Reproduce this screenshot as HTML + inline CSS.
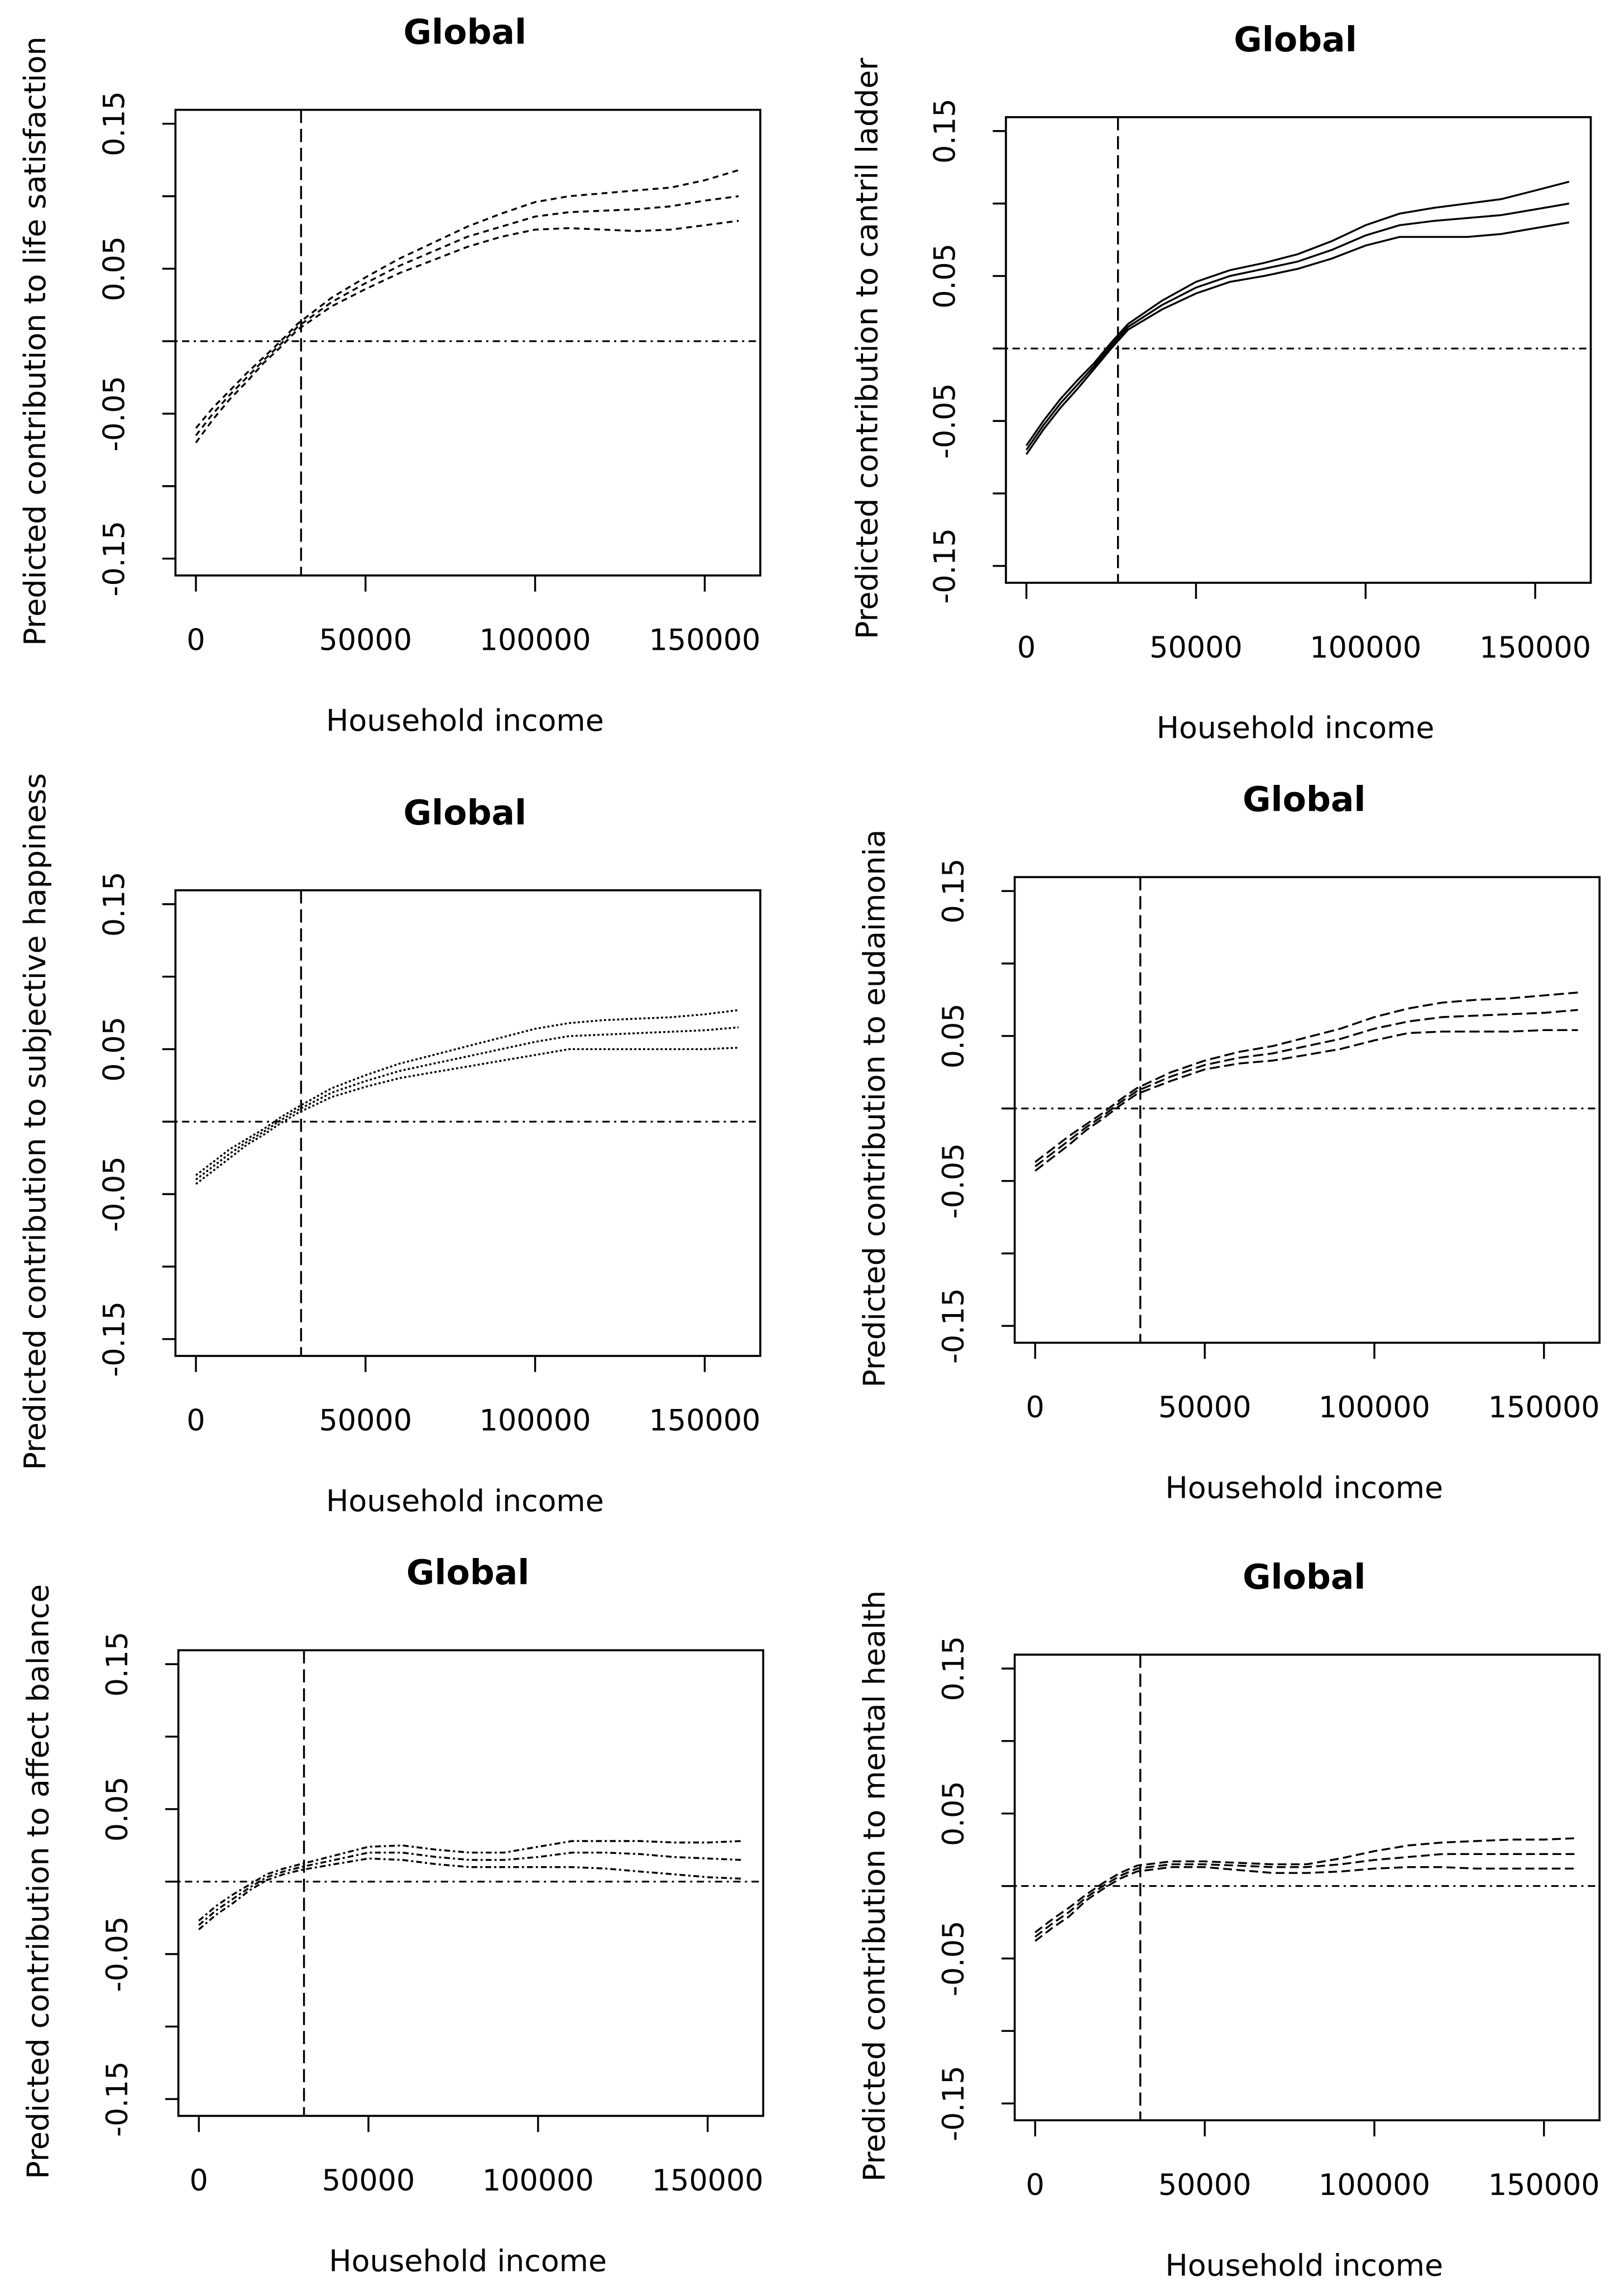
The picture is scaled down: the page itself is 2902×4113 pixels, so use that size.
<!DOCTYPE html>
<html><head><meta charset="utf-8">
<style>
html,body{margin:0;padding:0;background:#fff;}
svg{display:block;}
text{font-family:"DejaVu Sans","Liberation Sans",sans-serif;fill:#000;}
</style></head>
<body>
<svg id="fig" width="2902" height="4113" viewBox="0 0 1108 1568" preserveAspectRatio="none" xmlns="http://www.w3.org/2000/svg"></svg>
<script>
// Shared data
const incomeX = [0,5000,10000,15000,20000,25000,30000,40000,50000,60000,70000,80000,90000,100000,110000,120000,130000,140000,150000,160000];
const xTicks = [0,50000,100000,150000];
const xTickLabels = ["0","50000","100000","150000"];
const yTicks = [0.15,0.10,0.05,0,-0.05,-0.10,-0.15];
const yTickLabels = ["0.15","","0.05","","-0.05","","-0.15"];

// Panel 1: life satisfaction
const lsMid = [-0.065,-0.05,-0.037,-0.025,-0.013,-0.002,0.01,0.027,0.04,0.052,0.062,0.072,0.079,0.086,0.089,0.09,0.091,0.093,0.097,0.1];
const lsHi  = [-0.06,-0.046,-0.034,-0.022,-0.011,0.0,0.012,0.03,0.044,0.057,0.068,0.079,0.088,0.096,0.1,0.102,0.104,0.106,0.111,0.118];
const lsLo  = [-0.07,-0.054,-0.04,-0.028,-0.015,-0.004,0.008,0.024,0.036,0.047,0.056,0.065,0.072,0.077,0.078,0.077,0.076,0.077,0.08,0.083];
// Panel 2: cantril ladder
const clMid = [-0.07,-0.053,-0.038,-0.025,-0.012,0.002,0.015,0.03,0.042,0.05,0.055,0.06,0.068,0.078,0.085,0.088,0.09,0.092,0.096,0.1];
const clHi  = [-0.067,-0.05,-0.035,-0.022,-0.01,0.004,0.017,0.033,0.046,0.054,0.059,0.065,0.074,0.085,0.093,0.097,0.1,0.103,0.109,0.115];
const clLo  = [-0.073,-0.056,-0.041,-0.028,-0.014,0.0,0.013,0.027,0.038,0.046,0.05,0.055,0.062,0.071,0.077,0.077,0.077,0.079,0.083,0.087];
// Panel 3: subjective happiness
const shMid = [-0.04,-0.031,-0.022,-0.014,-0.007,0.001,0.008,0.02,0.028,0.035,0.04,0.045,0.05,0.055,0.059,0.06,0.061,0.062,0.063,0.065];
const shHi  = [-0.037,-0.028,-0.019,-0.012,-0.005,0.003,0.01,0.023,0.032,0.04,0.046,0.052,0.058,0.064,0.068,0.07,0.071,0.072,0.074,0.077];
const shLo  = [-0.043,-0.034,-0.025,-0.016,-0.009,-0.001,0.006,0.017,0.024,0.03,0.034,0.038,0.042,0.046,0.05,0.05,0.05,0.05,0.05,0.051];
// Panel 4: eudaimonia
const euMid = [-0.04,-0.031,-0.022,-0.013,-0.005,0.004,0.012,0.022,0.03,0.035,0.038,0.043,0.048,0.055,0.06,0.063,0.064,0.065,0.066,0.068];
const euHi  = [-0.037,-0.028,-0.019,-0.011,-0.003,0.006,0.014,0.025,0.033,0.039,0.043,0.049,0.055,0.063,0.069,0.073,0.075,0.076,0.078,0.08];
const euLo  = [-0.043,-0.034,-0.025,-0.015,-0.007,0.002,0.01,0.019,0.027,0.031,0.033,0.037,0.041,0.047,0.052,0.053,0.053,0.053,0.054,0.054];
// Panel 5: affect balance
const abMid = [-0.03,-0.02,-0.012,-0.004,0.003,0.007,0.01,0.015,0.02,0.02,0.017,0.015,0.015,0.017,0.02,0.02,0.019,0.017,0.016,0.015];
const abHi  = [-0.027,-0.017,-0.009,-0.002,0.005,0.009,0.012,0.018,0.024,0.025,0.022,0.02,0.02,0.024,0.028,0.028,0.028,0.027,0.027,0.028];
const abLo  = [-0.033,-0.023,-0.015,-0.006,0.001,0.005,0.008,0.012,0.016,0.015,0.012,0.01,0.01,0.01,0.01,0.009,0.007,0.005,0.003,0.002];
// Panel 6: mental health
const mhMid = [-0.035,-0.026,-0.018,-0.008,0.0,0.007,0.012,0.015,0.015,0.014,0.013,0.013,0.015,0.018,0.02,0.022,0.022,0.022,0.022,0.022];
const mhHi  = [-0.032,-0.023,-0.015,-0.006,0.002,0.009,0.014,0.017,0.017,0.016,0.015,0.015,0.019,0.024,0.028,0.03,0.031,0.032,0.032,0.033];
const mhLo  = [-0.038,-0.029,-0.021,-0.01,-0.002,0.005,0.01,0.013,0.013,0.011,0.009,0.009,0.01,0.012,0.013,0.013,0.012,0.012,0.012,0.012];

const panels = [
 {id:"life-satisfaction",bx:120,by:75,ylab:"Predicted contribution to life satisfaction",ylx:24,mid:lsMid,hi:lsHi,lo:lsLo,dash:"4 3",vx:31000},
 {id:"cantril-ladder",bx:688,by:80,ylab:"Predicted contribution to cantril ladder",ylx:593,mid:clMid,hi:clHi,lo:clLo,dash:"",vx:27000},
 {id:"subjective-happiness",bx:120,by:608,ylab:"Predicted contribution to subjective happiness",ylx:24,mid:shMid,hi:shHi,lo:shLo,dash:"1.5 1.5",vx:31000},
 {id:"eudaimonia",bx:694,by:599,ylab:"Predicted contribution to eudaimonia",ylx:598,mid:euMid,hi:euHi,lo:euLo,dash:"7 3",vx:31000},
 {id:"affect-balance",bx:122,by:1127,ylab:"Predicted contribution to affect balance",ylx:26,mid:abMid,hi:abHi,lo:abLo,dash:"4 2 1.5 2",vx:31000},
 {id:"mental-health",bx:694,by:1130,ylab:"Predicted contribution to mental health",ylx:598,mid:mhMid,hi:mhHi,lo:mhLo,dash:"6 3",vx:31000}
];

const NS="http://www.w3.org/2000/svg";
const svg=document.getElementById('fig');
function mk(tag,attrs,parent){const e=document.createElementNS(NS,tag);for(const k in attrs)e.setAttribute(k,attrs[k]);parent.appendChild(e);return e;}

panels.forEach(p=>{
  const W=400,H=318;
  const xs=v=>p.bx+14+v*116/50000;
  const ys=v=>p.by+158-v*990;
  const g=mk('g',{},svg);
  
  
  const t=mk('text',{x:p.bx+W/2-2,y:p.by-45,'text-anchor':'middle','font-size':23.5,'font-weight':'bold'},g);
  t.textContent="Global";
  
  
  const vl=mk('line',{x1:xs(p.vx),x2:xs(p.vx),y1:p.by,y2:p.by+H,stroke:'#000','stroke-width':1.3,'stroke-dasharray':'9 4'},g);
  
  
  const hl=mk('line',{x1:p.bx-8,x2:p.bx+W,y1:ys(0),y2:ys(0),stroke:'#000','stroke-width':1.2,'stroke-dasharray':'5 3 1.5 3'},g);
  
  
  [['lower-bound',p.lo],['estimate',p.mid],['upper-bound',p.hi]].forEach(([nm,arr])=>{
    const d=arr.map((v,i)=>(i?'L':'M')+xs(incomeX[i]).toFixed(1)+' '+ys(v).toFixed(1)).join(' ');
    const a={d:d,fill:'none',stroke:'#000','stroke-width':1.3};
    if(p.dash)a['stroke-dasharray']=p.dash;
    const pa=mk('path',a,g);
    
    
  });
  const bx=mk('rect',{x:p.bx,y:p.by,width:W,height:H,fill:'none',stroke:'#000','stroke-width':1.4},g);
  
  
  yTicks.forEach((v,i)=>{
    const y=ys(v);
    const tk=mk('line',{x1:p.bx-9,x2:p.bx,y1:y,y2:y,stroke:'#000','stroke-width':1.3},g);
    
    
    if(yTickLabels[i]){
      const tl=mk('text',{x:0,y:0,'text-anchor':'middle','font-size':20,transform:`translate(${p.bx-35},${y}) rotate(-90)`},g);
      tl.textContent=yTickLabels[i];
      
      
    }
  });
  xTicks.forEach((v,i)=>{
    const x=xs(v);
    const tk=mk('line',{x1:x,x2:x,y1:p.by+H,y2:p.by+H+11,stroke:'#000','stroke-width':1.3},g);
    
    
    const tl=mk('text',{x:x,y:p.by+H+51,'text-anchor':'middle','font-size':20},g);
    tl.textContent=xTickLabels[i];
    
    
  });
  const xl=mk('text',{x:p.bx+W/2-2,y:p.by+H+106,'text-anchor':'middle','font-size':20.5},g);
  xl.textContent="Household income";
  
  
  const yl=mk('text',{x:0,y:0,'text-anchor':'middle','font-size':20.5,transform:`translate(${p.ylx+7},${p.by+158}) rotate(-90)`},g);
  yl.textContent=p.ylab;
  
  
});
</script>
</body></html>
